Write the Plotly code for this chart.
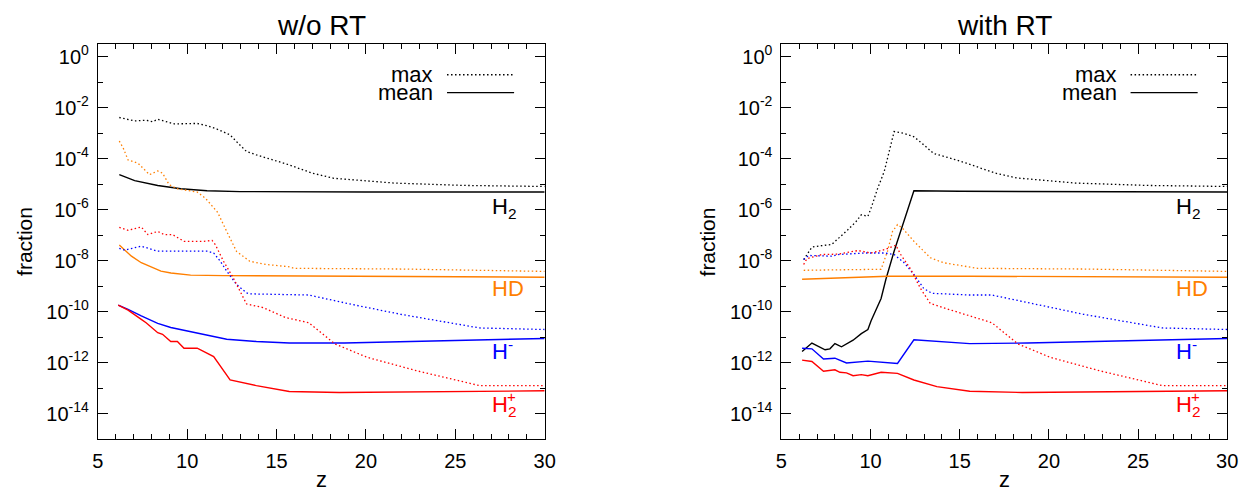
import plotly.graph_objects as go

# ---------------- data ----------------
# Left panel: w/o RT
L_h2_max_z = [6.2, 6.6, 7.06, 7.7, 8.07, 8.35, 9.27, 10.56, 11.11, 11.66, 12.4, 12.85, 13.32, 13.87, 14.6, 15.61, 17.0, 18.2, 21.6, 25.5, 30]
L_h2_max = [4.1e-3, 3.5e-3, 3.0e-3, 3.2e-3, 2.8e-3, 3.5e-3, 2.3e-3, 2.4e-3, 1.95e-3, 1.45e-3, 8.5e-4, 4.0e-4, 1.9e-4, 1.4e-4, 9.8e-5, 6.0e-5, 2.7e-5, 1.7e-5, 1.1e-5, 8.9e-6, 8.1e-6]
L_h2_mean_z = [6.2, 7.06, 8.35, 9.64, 11.11, 12.95, 20, 30]
L_h2_mean = [2.35e-5, 1.38e-5, 8.9e-6, 6.6e-6, 5.5e-6, 5.1e-6, 4.95e-6, 4.9e-6]

L_hd_max_z = [6.2, 6.42, 6.69, 7.25, 7.89, 8.35, 8.62, 8.99, 9.45, 10.56, 11.02, 11.48, 11.7, 12.21, 12.76, 13.5, 14.42, 15.71, 16, 22, 30]
L_hd_max = [4.9e-4, 2.6e-4, 8.9e-5, 6.6e-5, 2.35e-5, 3.3e-5, 2.7e-5, 9.5e-6, 6.6e-6, 4.9e-6, 2.8e-6, 1.15e-6, 7.9e-7, 1.4e-7, 2.3e-8, 9.5e-9, 7.1e-9, 5.75e-9, 5.0e-9, 4.7e-9, 3.8e-9]
L_hd_mean_z = [6.2, 6.88, 7.43, 7.98, 8.53, 9.09, 10.19, 12.03, 30]
L_hd_mean = [4.1e-8, 1.5e-8, 8.3e-9, 5.6e-9, 3.9e-9, 3.3e-9, 2.7e-9, 2.6e-9, 2.25e-9]

L_hm_max_z = [6.2, 6.51, 7.43, 8.35, 11.11, 11.48, 11.85, 12.21, 12.76, 13.32, 13.5, 16.8, 19.18, 21.94, 26.36, 30]
L_hm_max = [3.0e-8, 2.6e-8, 3.7e-8, 2.35e-8, 2.35e-8, 2.0e-8, 9.5e-9, 3.9e-9, 1.17e-9, 5.5e-10, 5.0e-10, 4.5e-10, 1.95e-10, 7.9e-11, 2.3e-11, 2.0e-11]
L_hm_mean_z = [6.14, 6.69, 7.43, 8.35, 9.08, 10.56, 12.21, 13.87, 15.71, 18.8, 30]
L_hm_mean = [1.8e-10, 1.23e-10, 6.8e-11, 3.5e-11, 2.4e-11, 1.5e-11, 8.3e-12, 6.8e-12, 5.9e-12, 5.9e-12, 8.9e-12]

L_h2p_max_z = [6.2, 6.69, 7.43, 7.8, 8.35, 8.72, 9.18, 9.82, 10.93, 11.39, 11.57, 12.03, 12.58, 13.32, 14.24, 15.5, 16.8, 17.35, 18.27, 20.1, 22.86, 26.36, 30]
L_h2p_max = [2.0e-7, 1.55e-7, 2.1e-7, 1.05e-7, 1.4e-7, 1.05e-7, 1.05e-7, 5.75e-8, 5.75e-8, 6.2e-8, 4.3e-8, 9.5e-9, 2.1e-9, 2.0e-10, 1.45e-10, 5.9e-11, 3.7e-11, 1.8e-11, 5.4e-12, 1.6e-12, 4.8e-13, 1.26e-13, 1.26e-13]
L_h2p_mean_z = [6.14, 6.69, 7.43, 7.7, 8.35, 8.62, 9.08, 9.45, 9.82, 10.56, 11.48, 12.4, 13.87, 15.71, 18.5, 30]
L_h2p_mean = [1.8e-10, 1.15e-10, 5.0e-11, 3.7e-11, 1.5e-11, 1.3e-11, 6.8e-12, 6.8e-12, 3.7e-12, 3.7e-12, 1.74e-12, 2.1e-13, 1.26e-13, 7.4e-14, 6.8e-14, 7.9e-14]

# Right panel: with RT
R_h2_max_z = [6.25, 6.71, 7.27, 7.82, 8.74, 9.2, 9.48, 9.85, 10.03, 10.4, 10.77, 11.05, 11.32, 11.88, 12.43, 12.98, 13.53, 14.46, 15.38, 17.0, 18.2, 21.5, 25.55, 30]
R_h2_max = [1.1e-8, 3.4e-8, 3.9e-8, 4.3e-8, 1.66e-7, 3.5e-7, 6.3e-7, 5.5e-7, 1.15e-6, 6.9e-6, 3.2e-5, 1.9e-4, 1.15e-3, 9.8e-4, 7.2e-4, 3.5e-4, 1.6e-4, 1.05e-4, 6.6e-5, 2.7e-5, 1.75e-5, 1.1e-5, 8.9e-6, 8.1e-6]
R_h2_mean_z = [6.16, 6.71, 7.45, 7.72, 8.0, 8.37, 9.02, 9.48, 9.85, 10.03, 10.59, 10.86, 11.32, 11.88, 12.43, 15, 30]
R_h2_mean = [2.75e-12, 5.9e-12, 3.2e-12, 3.5e-12, 5.6e-12, 4.2e-12, 7.6e-12, 1.38e-11, 2.0e-11, 4.4e-11, 3.3e-10, 1.86e-9, 2.35e-8, 3.5e-7, 5.5e-6, 5.25e-6, 4.9e-6]

R_hd_max_z = [6.25, 10.59, 10.95, 11.23, 11.51, 11.78, 12.43, 13.35, 14.09, 15.56, 16, 22, 30]
R_hd_max = [4.2e-9, 4.6e-9, 2.35e-8, 1.4e-7, 2.6e-7, 1.9e-7, 5.75e-8, 1.3e-8, 8.3e-9, 5.6e-9, 5.0e-9, 4.7e-9, 3.8e-9]
R_hd_mean_z = [6.16, 10.95, 15.56, 30]
R_hd_mean = [1.86e-9, 2.45e-9, 2.45e-9, 2.25e-9]

R_hm_max_z = [6.25, 6.53, 7.82, 8.19, 9.66, 10.77, 11.32, 11.88, 12.43, 12.98, 13.44, 15.56, 16.8, 19.18, 21.94, 26.36, 30]
R_hm_max = [1.12e-8, 1.6e-8, 1.5e-8, 1.74e-8, 2.0e-8, 2.0e-8, 1.74e-8, 8.3e-9, 2.9e-9, 8.1e-10, 5.25e-10, 4.5e-10, 4.5e-10, 1.95e-10, 7.9e-11, 2.3e-11, 2.0e-11]
R_hm_mean_z = [6.16, 6.71, 7.36, 8.0, 8.65, 9.85, 11.51, 12.43, 15.56, 18.8, 30]
R_hm_mean = [3.7e-12, 3.5e-12, 1.4e-12, 1.5e-12, 9.8e-13, 1.15e-12, 9.3e-13, 7.9e-12, 5.6e-12, 5.9e-12, 8.9e-12]

R_h2p_max_z = [6.25, 6.43, 7.27, 8.19, 9.3, 10.03, 10.77, 11.42, 11.69, 12.25, 12.8, 13.35, 14.27, 15.56, 16.8, 17.35, 18.27, 20.1, 22.86, 26.36, 30]
R_h2p_max = [7.1e-9, 1.2e-8, 1.74e-8, 1.8e-8, 2.5e-8, 2.0e-8, 2.7e-8, 4.0e-8, 1.74e-8, 4.6e-9, 8.1e-10, 2.1e-10, 1.3e-10, 6.8e-11, 3.7e-11, 1.8e-11, 5.4e-12, 1.6e-12, 4.8e-13, 1.26e-13, 1.26e-13]
R_h2p_mean_z = [6.16, 6.71, 7.36, 7.72, 8.0, 8.28, 8.65, 9.02, 9.48, 9.85, 10.59, 11.51, 12.43, 13.72, 15.56, 18.5, 30]
R_h2p_mean = [1.26e-12, 1.12e-12, 4.6e-13, 4.8e-13, 5.25e-13, 4.2e-13, 4.0e-13, 3.1e-13, 3.4e-13, 3.1e-13, 4.2e-13, 3.8e-13, 2.1e-13, 1.15e-13, 7.6e-14, 6.8e-14, 7.9e-14]

panel_titles = ["w/o RT", "with RT"]
species_labels = ["H<sub>2</sub>", "HD", "H<sup>-</sup>", "H<sub>2</sub>"]
h2p_charge = "+"
x_tick_vals = [5, 10, 15, 20, 25, 30]
y_exponents = [0, -2, -4, -6, -8, -10, -12, -14]
y_minor_exponents = [-1, -3, -5, -7, -9, -11, -13]

# ---------------- styling ----------------
PAGE_MARGIN = 8          # default <body> margin of the html page
W, H = 1256 - PAGE_MARGIN, 492 - PAGE_MARGIN
FONT = "Liberation Sans, Arial, sans-serif"
BLACK, ORANGE, BLUE, RED = "#000000", "#ff7f00", "#0000ff", "#ff0000"
DOT = "1.5px,2.5px"

def px(x):
    return (x - PAGE_MARGIN) / W

def py(y):
    return 1 - (y - PAGE_MARGIN) / H

panels = [
    dict(left=93, right=546, xa="x", ya="y",
         series=[(L_h2_max_z, L_h2_max, BLACK, True), (L_h2_mean_z, L_h2_mean, BLACK, False),
                 (L_hd_max_z, L_hd_max, ORANGE, True), (L_hd_mean_z, L_hd_mean, ORANGE, False),
                 (L_hm_max_z, L_hm_max, BLUE, True), (L_hm_mean_z, L_hm_mean, BLUE, False),
                 (L_h2p_max_z, L_h2p_max, RED, True), (L_h2p_mean_z, L_h2p_mean, RED, False)]),
    dict(left=786, right=1238, xa="x2", ya="y2",
         series=[(R_h2_max_z, R_h2_max, BLACK, True), (R_h2_mean_z, R_h2_mean, BLACK, False),
                 (R_hd_max_z, R_hd_max, ORANGE, True), (R_hd_mean_z, R_hd_mean, ORANGE, False),
                 (R_hm_max_z, R_hm_max, BLUE, True), (R_hm_mean_z, R_hm_mean, BLUE, False),
                 (R_h2p_max_z, R_h2p_max, RED, True), (R_h2p_mean_z, R_h2p_mean, RED, False)]),
]
TOP, BOTTOM = 42, 439

fig = go.Figure()
annotations = []
shapes = []
for i, p in enumerate(panels):
    for zs, vals, col, dotted in p["series"]:
        fig.add_trace(go.Scatter(
            x=zs, y=vals, mode="lines", xaxis=p["xa"], yaxis=p["ya"], showlegend=False,
            line=dict(color=col, width=1.3 if dotted else 1.4, dash=DOT if dotted else "solid"),
        ))
    sfx = "" if i == 0 else "2"
    axis_common = dict(showline=True, linecolor="black", linewidth=1, mirror="allticks",
                       ticks="inside", ticklen=10, tickwidth=1, tickcolor="black",
                       showgrid=False, zeroline=False, ticklabelstandoff=4,
                       tickfont=dict(family=FONT, size=20, color="black"))
    fig.update_layout(**{
        "xaxis" + sfx: dict(axis_common, domain=[px(p["left"]), px(p["right"])], range=[5, 30],
                            tickvals=x_tick_vals, ticktext=[str(v) for v in x_tick_vals],
                            minor=dict(dtick=1, ticklen=5, ticks="inside", tickcolor="black"),
                            anchor="y" + sfx),
        "yaxis" + sfx: dict(axis_common, type="log", domain=[py(BOTTOM), py(TOP)], range=[-15, 0.5],
                            tickvals=[10.0 ** e for e in y_exponents],
                            ticktext=["10<sup>%d</sup>" % e for e in y_exponents],
                            minor=dict(tickvals=[10.0 ** e for e in y_minor_exponents], ticklen=5,
                                       ticks="inside", tickcolor="black"),
                            anchor="x" + sfx),
    })
    off = p["left"] - 93
    cx = (p["left"] + p["right"]) / 2
    annotations += [
        dict(text=panel_titles[i], x=px(cx), y=py(24), font=dict(size=28)),
        dict(text="z", x=px(cx), y=py(479), font=dict(size=22)),
        dict(text="fraction", x=px(p["left"] - 74.5), y=py(240.5), textangle=-90, font=dict(size=21)),
        dict(text="max", x=px(435 + off), y=py(73), xanchor="right", font=dict(size=22)),
        dict(text="mean", x=px(435 + off), y=py(91), xanchor="right", font=dict(size=22)),
        dict(text=species_labels[0], x=px(491 + off), y=py(207), xanchor="left", font=dict(size=22, color=BLACK)),
        dict(text=species_labels[1], x=px(491 + off), y=py(288), xanchor="left", font=dict(size=22, color=ORANGE)),
        dict(text=species_labels[2], x=px(491 + off), y=py(349), xanchor="left", font=dict(size=22, color=BLUE)),
        dict(text=species_labels[3], x=px(491 + off), y=py(406), xanchor="left", font=dict(size=22, color=RED)),
        dict(text=h2p_charge, x=px(506 + off), y=py(396), xanchor="left", font=dict(size=15, color=RED)),
    ]
    shapes += [
        dict(type="line", xref="paper", yref="paper", x0=px(447 + off), x1=px(515 + off), y0=py(73), y1=py(73),
             line=dict(color="black", width=1.3, dash=DOT)),
        dict(type="line", xref="paper", yref="paper", x0=px(447 + off), x1=px(515 + off), y0=py(91), y1=py(91),
             line=dict(color="black", width=1.4)),
    ]

for a in annotations:
    a.update(xref="paper", yref="paper", showarrow=False, yanchor="middle")
    a.setdefault("xanchor", "center")
    a["font"] = dict(dict(family=FONT, color="black"), **a["font"])

fig.update_layout(width=W, height=H, margin=dict(l=0, r=0, t=0, b=0),
                  paper_bgcolor="white", plot_bgcolor="white",
                  annotations=annotations, shapes=shapes, showlegend=False)
fig.write_html("out.html")
